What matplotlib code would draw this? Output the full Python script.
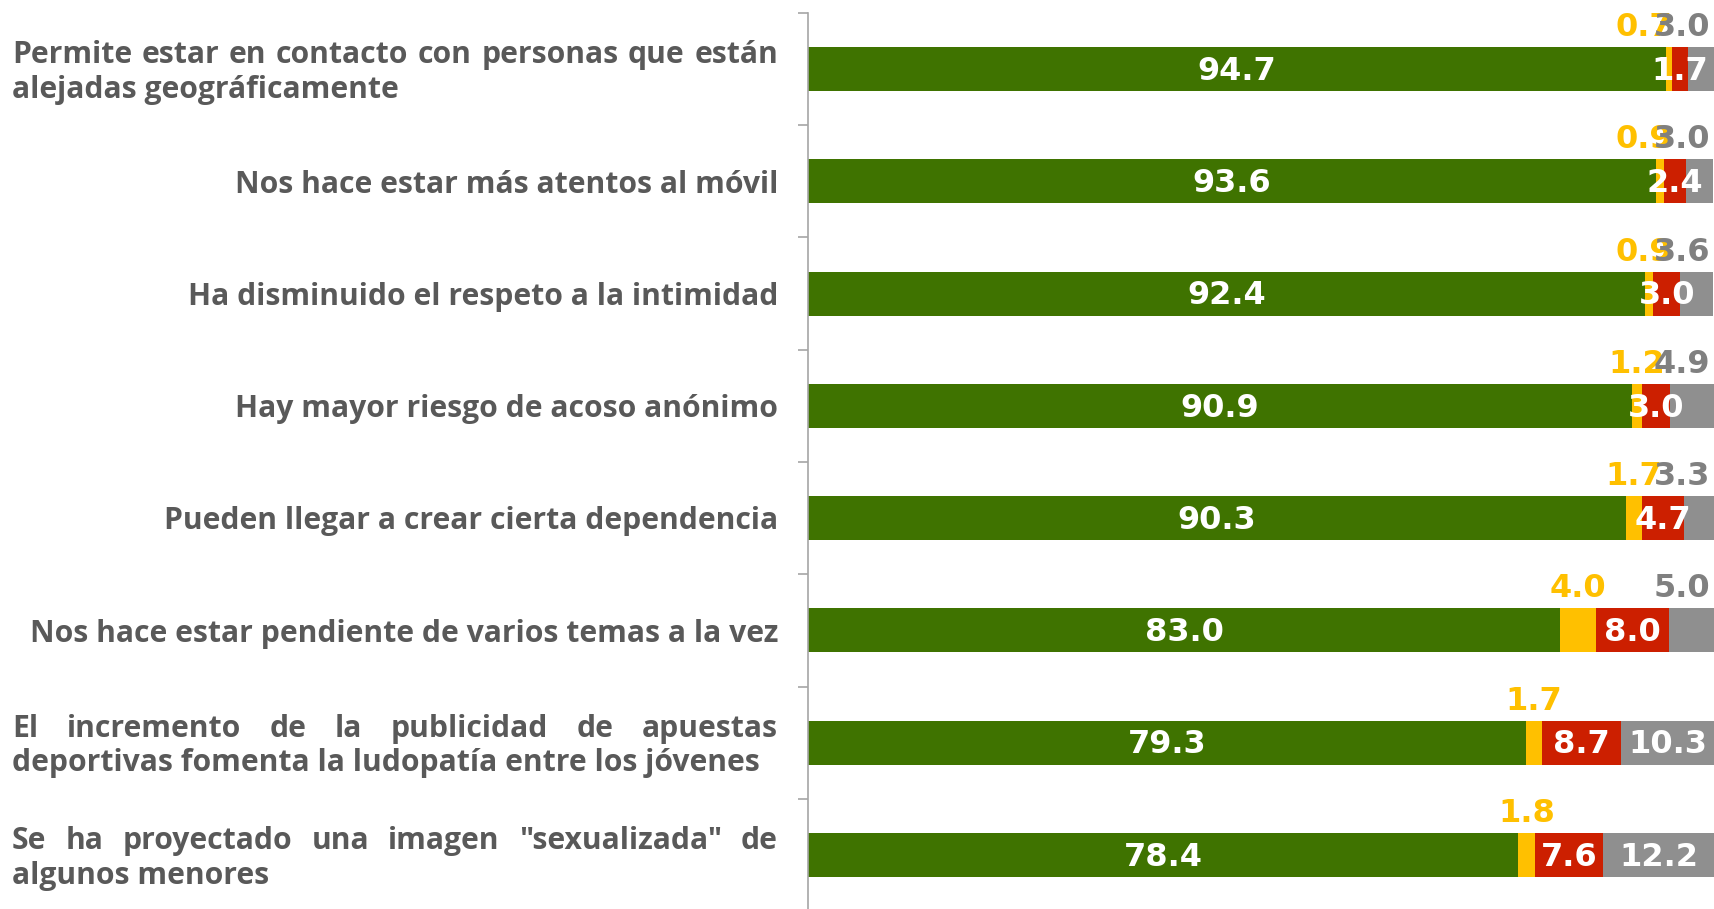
import matplotlib
matplotlib.use("Agg")
import matplotlib.pyplot as plt
from matplotlib.transforms import blended_transform_factory

# categories, top to bottom
categorias = [
    "Permite estar en contacto con personas que están\nalejadas geográficamente",
    "Nos hace estar más atentos al móvil",
    "Ha disminuido el respeto a la intimidad",
    "Hay mayor riesgo de acoso anónimo",
    "Pueden llegar a crear cierta dependencia",
    "Nos hace estar pendiente de varios temas a la vez",
    "El incremento de la publicidad de apuestas\ndeportivas fomenta la ludopatía entre los jóvenes",
    "Se ha proyectado una imagen \"sexualizada\" de\nalgunos menores",
]
verde = [94.7, 93.6, 92.4, 90.9, 90.3, 83.0, 79.3, 78.4]
amarillo = [0.7, 0.9, 0.9, 1.2, 1.7, 4.0, 1.7, 1.8]
rojo = [1.7, 2.4, 3.0, 3.0, 4.7, 8.0, 8.7, 7.6]
gris = [3.0, 3.0, 3.6, 4.9, 3.3, 5.0, 10.3, 12.2]

c_verde = "#3f7300"
c_amarillo = "#ffc000"
c_rojo = "#cc1f00"
c_gris = "#8f8f8f"
c_texto = "#595959"

plt.rcParams["font.family"] = ["DejaVu Sans"]
cat_font = ["Open Sans", "DejaVu Sans"]

fig = plt.figure(figsize=(17.14, 9.09), dpi=100)
ax = fig.add_axes([808 / 1714, -2 / 909, 906 / 1714, 898 / 909])

y = list(range(len(categorias)))
h = 0.39
left = [0.0] * len(y)
for vals, col in [(verde, c_verde), (amarillo, c_amarillo), (rojo, c_rojo), (gris, c_gris)]:
    ax.barh(y, vals, left=left, height=h, color=col, edgecolor="none")
    left = [l + v for l, v in zip(left, vals)]

ax.set_xlim(0, 100)
ax.set_ylim(len(y) - 0.5, -0.5)

# value labels
fs_val = 23
off = 0.02
for i in y:
    x0 = 0
    # green
    ax.text(x0 + verde[i] / 2, i + off, f"{verde[i]:.1f}", ha="center", va="center",
            color="white", fontsize=fs_val, fontweight="bold")
    x0 += verde[i]
    # yellow, above the bar
    cx = min(x0 + amarillo[i] / 2, 92.3)
    ax.text(cx, i - 0.37, f"{amarillo[i]:.1f}", ha="center", va="center",
            color=c_amarillo, fontsize=fs_val, fontweight="bold")
    x0 += amarillo[i]
    # red
    ax.text(x0 + rojo[i] / 2, i + off, f"{rojo[i]:.1f}", ha="center", va="center",
            color="white", fontsize=fs_val, fontweight="bold")
    x0 += rojo[i]
    # grey: inside if wide enough, otherwise above
    if gris[i] >= 10:
        ax.text(x0 + gris[i] / 2, i + off, f"{gris[i]:.1f}", ha="center", va="center",
                color="white", fontsize=fs_val, fontweight="bold")
    else:
        cx = min(x0 + gris[i] / 2, 96.5)
        ax.text(cx, i - 0.37, f"{gris[i]:.1f}", ha="center", va="center",
                color="#808080", fontsize=fs_val, fontweight="bold")

# axis styling
for s in ["top", "right", "bottom"]:
    ax.spines[s].set_visible(False)
ax.spines["left"].set_color("#a6a6a6")
ax.spines["left"].set_linewidth(1.2)
ax.set_xticks([])
ax.set_yticks([i - 0.5 for i in range(len(y) + 1)])
ax.set_yticklabels([])
ax.tick_params(axis="y", length=7, width=1.2, color="#a6a6a6", direction="out")

# category labels (multi-line ones justified on the first line)
tr = blended_transform_factory(fig.transFigure, ax.transData)
x_right = 778 / 1714
x_left = 12 / 1714
fs_cat = 21.7
coff = 0.03
fig.canvas.draw()
renderer = fig.canvas.get_renderer()
W = fig.bbox.width
for i, lab in enumerate(categorias):
    lines = lab.split("\n")
    if len(lines) == 1:
        ax.text(x_right, i + coff, lab, ha="right", va="center", transform=tr,
                fontsize=fs_cat, fontweight="bold", color=c_texto, family=cat_font)
        continue
    dy = 0.155
    words = lines[0].split(" ")
    txts = [ax.text(0, i - dy + coff, w, ha="left", va="center", transform=tr,
                    fontsize=fs_cat, fontweight="bold", color=c_texto, family=cat_font)
            for w in words]
    widths = [t.get_window_extent(renderer).width / W for t in txts]
    gap = (x_right - x_left - sum(widths)) / (len(words) - 1)
    xp = x_left
    for t, wd in zip(txts, widths):
        t.set_x(xp)
        xp += wd + gap
    ax.text(x_left, i + dy + coff, lines[1], ha="left", va="center", transform=tr,
            fontsize=fs_cat, fontweight="bold", color=c_texto, family=cat_font)

fig.savefig("out.png", dpi=100)
